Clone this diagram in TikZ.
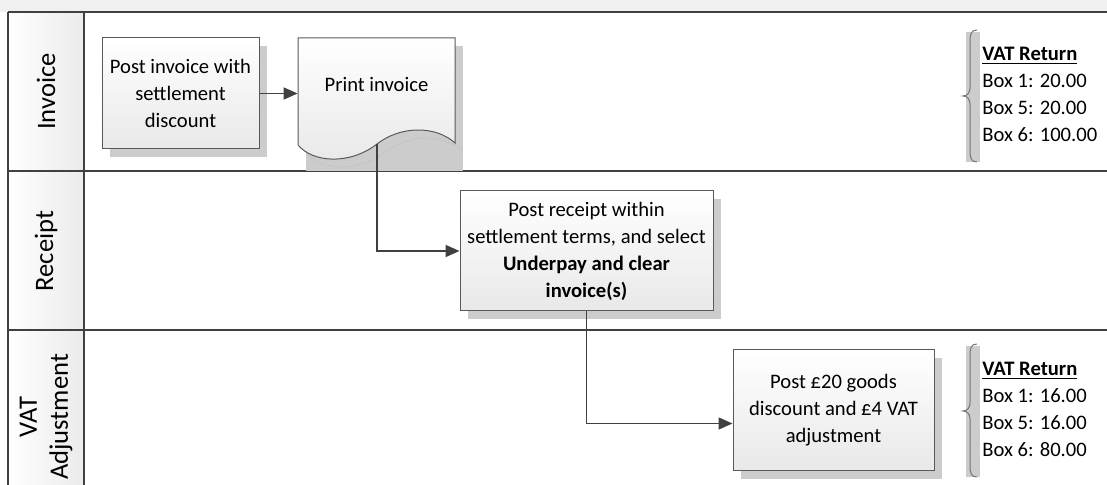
\documentclass[tikz,border=0pt]{standalone}
\usepackage{fontspec}
\setmainfont{Carlito}
\usepackage{xcolor}
\usetikzlibrary{positioning,arrows.meta,calc,shadows}
\definecolor{LaneLine}{HTML}{404040}
\definecolor{BoxLine}{HTML}{595959}
\definecolor{Shade}{HTML}{CCCCCC}
\definecolor{Strip}{HTML}{F0F0F0}

\begin{document}
\begin{tikzpicture}[
  x=0.5pt, y=-0.5pt,
  font=\fontsize{10.3}{13.5}\selectfont,
  stepbox/.style={draw=BoxLine,line width=.5pt,top color=white,bottom color=black!9,
              align=center,inner sep=0pt,
              drop shadow={shadow xshift=4pt,shadow yshift=-4pt,fill=Shade,opacity=1}},
  docbox/.style={align=center,inner sep=0pt},
  doc/.style={draw=BoxLine,line width=.5pt,top color=white,bottom color=black!9},
  lane/.style={draw=LaneLine,line width=.8pt},
  lanelbl/.style={rotate=90,align=center,font=\fontsize{13.3}{15.5}\selectfont},
  arr/.style={-{Triangle[length=7pt,width=6pt]},line width=.85pt,draw=LaneLine},
  brace/.style={draw=black!55,line width=.5pt},
  note/.style={align=left,anchor=west,inner sep=0pt}]
\useasboundingbox (0,0) rectangle (1107,485);

% pool and lanes
\fill[Strip] (0,0) rectangle (1107,12);
\shade[left color=white,right color=black!8] (8,12) rectangle (84,485);
\draw[lane] (8,12) -- (1107,12);
\draw[lane] (8,171) -- (1107,171);
\draw[lane] (8,330) -- (1107,330);
\draw[lane] (8,12) -- (8,485);
\draw[lane] (84,12) -- (84,485);

\node[lanelbl] (invlbl) at (46,91.5) {Invoice};
\node[lanelbl] (reclbl) at (46,251)  {Receipt};
\node[lanelbl] (vatlbl) at (46,417)  {VAT\\Adjustment};

% invoice lane
\node[stepbox,minimum width=78.5pt,minimum height=55.5pt] (post) at (180.5,93.5)
  {Post invoice with\\settlement\\discount};

\fill[Shade] (306,46) rectangle (463,171);
\draw[black!35,densely dotted,line width=.3pt] (306,153)
  .. controls (321,171) and (358,173) .. (385,152)
  .. controls (408,134) and (443,133) .. (463,151);
\draw[doc] (298,38) -- (455,38) -- (455,143)
  .. controls (435,125) and (400,126) .. (377,144)
  .. controls (350,165) and (313,163) .. (298,145) -- cycle;
\node[docbox,minimum width=78.5pt] (print) at (376.5,84) {Print invoice};
\coordinate (printfoot) at (377,144);

% receipt lane
\node[stepbox,minimum width=126.5pt,minimum height=60pt] (receipt) at (586.5,251)
  {Post receipt within\\settlement terms, and select\\\textbf{Underpay and clear}\\\textbf{invoice(s)}};

% vat lane
\node[stepbox,minimum width=100.5pt,minimum height=60.5pt] (vat) at (833.5,410.5)
  {Post £20 goods\\discount and £4 VAT\\adjustment};

\draw[arr] (post.east) -- (post.east -| print.west);
\draw[arr] (printfoot) |- (receipt.west);
\draw[arr] (receipt.south) |- ($(vat.west)+(0,13)$);

% vat return notes
\fill[Shade] (966,32) rectangle (980,162);
\draw[brace] (977,30) .. controls (971,30) and (970,34) .. (970,42) -- (970,88)
  .. controls (970,93) and (967,96) .. (963,96)
  .. controls (967,96) and (970,99) .. (970,104) -- (970,150)
  .. controls (970,158) and (971,162) .. (977,162);
\node[note] (ret1) at (982,94)
  {\underline{\textbf{VAT Return}}\\Box 1: 20.00\\Box 5: 20.00\\Box 6: 100.00};

\fill[Shade] (966,346) rectangle (980,477);
\draw[brace] (977,344) .. controls (971,344) and (970,348) .. (970,356) -- (970,403)
  .. controls (970,408) and (967,411) .. (963,411)
  .. controls (967,411) and (970,414) .. (970,419) -- (970,465)
  .. controls (970,473) and (971,477) .. (977,477);
\node[note] (ret2) at (982,409)
  {\underline{\textbf{VAT Return}}\\Box 1: 16.00\\Box 5: 16.00\\Box 6: 80.00};
\end{tikzpicture}
\end{document}
